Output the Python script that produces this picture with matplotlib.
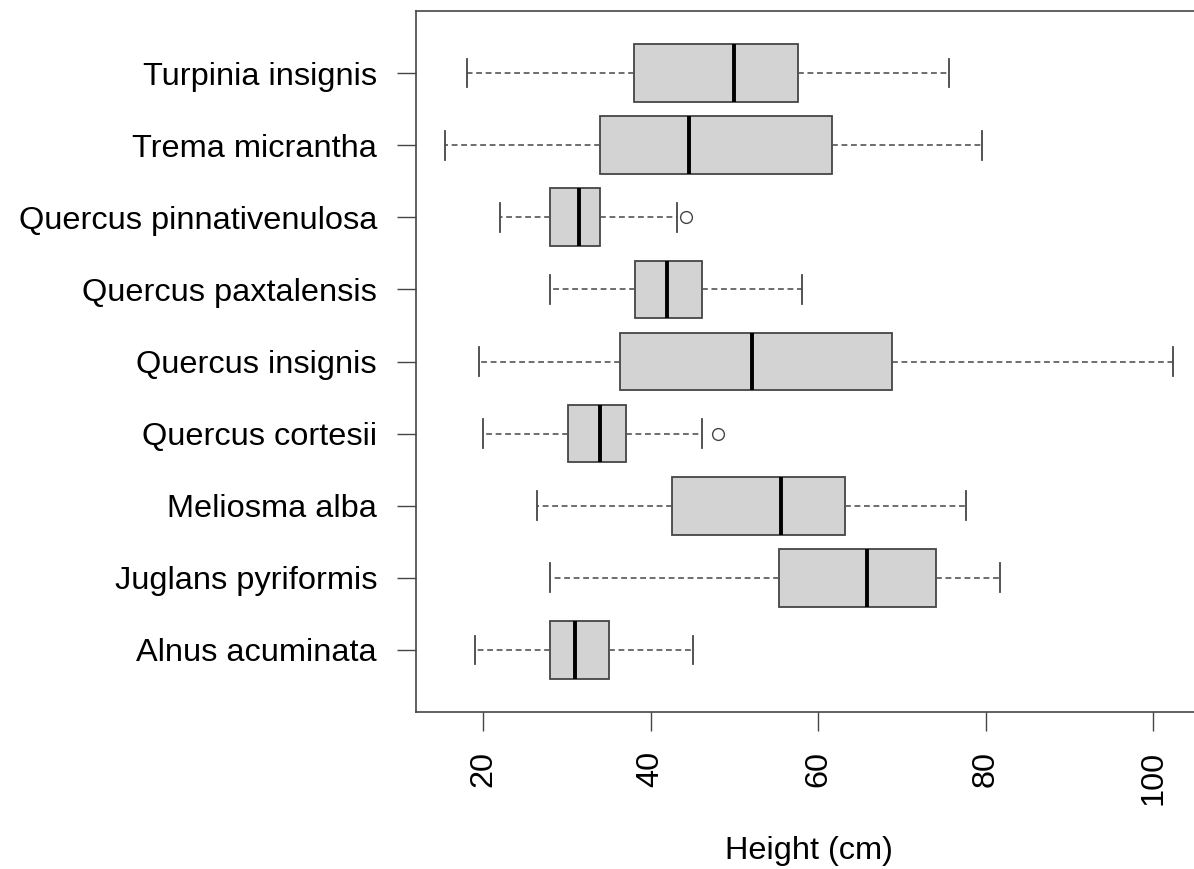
import matplotlib
matplotlib.use('Agg')
import matplotlib.pyplot as plt

plt.rcParams['font.family'] = ['Liberation Sans', 'DejaVu Sans']

# bottom to top, as in the figure
species = ['Alnus acuminata', 'Juglans pyriformis', 'Meliosma alba', 'Quercus cortesii',
           'Quercus insignis', 'Quercus paxtalensis', 'Quercus pinnativenulosa',
           'Trema micrantha', 'Turpinia insignis']
whislo = [19.0, 28.0, 26.5, 20.0, 19.5, 28.0, 22.0, 15.5, 18.1]
q1     = [28.0, 55.3, 42.6, 30.1, 36.3, 38.1, 28.0, 33.9, 38.0]
med    = [31.0, 65.8, 55.6, 33.9, 52.1, 42.0, 31.5, 44.6, 50.0]
q3     = [35.0, 74.1, 63.2, 37.1, 68.8, 46.1, 34.0, 61.7, 57.6]
whishi = [45.1, 81.7, 77.6, 46.1, 102.3, 58.1, 43.1, 79.5, 75.6]
fliers = [[], [], [], [48.1], [], [], [44.2], [], []]

stats = []
for i in range(len(species)):
    stats.append(dict(label=species[i], whislo=whislo[i], q1=q1[i], med=med[i],
                      q3=q3[i], whishi=whishi[i], fliers=fliers[i]))

fig = plt.figure(figsize=(11.94, 8.69), dpi=100)
ax = fig.add_axes([0.3484, 0.1807, 0.6583, 0.8066])

edge = '#454545'
ax.bxp(stats, positions=range(1, len(species) + 1), vert=False, widths=0.8,
       patch_artist=True, showfliers=True,
       boxprops=dict(facecolor='#d3d3d3', edgecolor=edge, linewidth=1.3),
       medianprops=dict(color='black', linewidth=2.8, solid_capstyle='butt'),
       whiskerprops=dict(color='#555555', linewidth=1.2, linestyle=(0, (3.5, 2.2))),
       capprops=dict(color=edge, linewidth=1.3),
       capwidths=0.4,
       flierprops=dict(marker='o', markersize=8.5, markerfacecolor='none',
                       markeredgecolor=edge, markeredgewidth=1.0))

ax.set_xlim(12.0, 105.8)
ax.set_ylim(0.14, 9.86)
ax.set_xticks([20, 40, 60, 80, 100])
ax.set_xticklabels(['20', '40', '60', '80', '100'], rotation=90)
ax.set_yticks(range(1, len(species) + 1))
ax.set_yticklabels(species)
ax.tick_params(axis='both', labelsize=23.4, length=14, width=1.0, color=edge, pad=14)
ax.set_xlabel('Height (cm)', fontsize=23.4, labelpad=22)

for s in ['left', 'top', 'bottom']:
    ax.spines[s].set_color(edge)
    ax.spines[s].set_linewidth(1.2)
ax.spines['right'].set_visible(False)

plt.savefig('out.png', dpi=100)
